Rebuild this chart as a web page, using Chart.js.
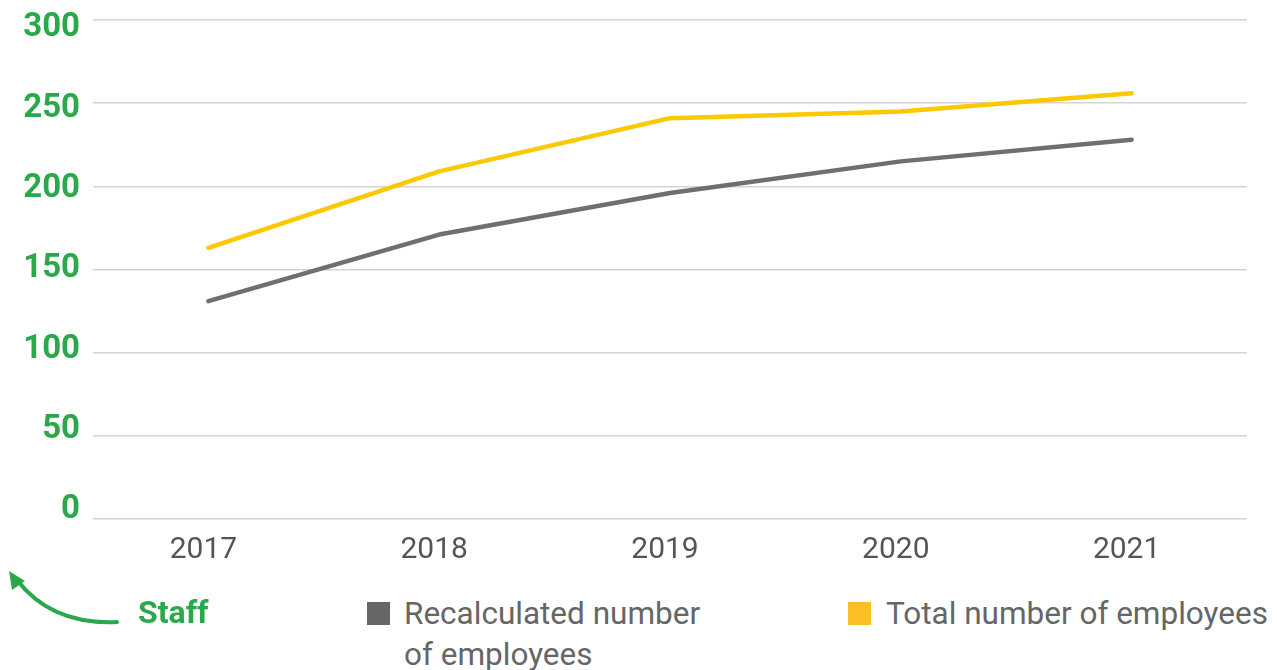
<!DOCTYPE html>
<html>
<head>
<meta charset="utf-8">
<script src="https://cdn.jsdelivr.net/npm/chart.js@4"></script>
<style>
  html, body { margin: 0; padding: 0; background: #fff; }
  body { width: 1277px; height: 670px; position: relative; overflow: hidden; font-family: Roboto, "Liberation Sans", sans-serif; }
  #wrap { position: absolute; left: 0; top: 0; width: 1277px; height: 575px; }
  .staff { position: absolute; left: 138px; top: 593px; color: #2aa84a; font-weight: bold; font-size: 32px; line-height: 38px; }
  .sq { position: absolute; width: 23px; height: 23px; }
  .lbl { position: absolute; color: #666; font-size: 31.5px; line-height: 41px; }
</style>
</head>
<body>
<div id="wrap"><canvas id="chart-staff"></canvas></div>

<!-- legend -->
<svg style="position:absolute;left:0;top:560px" width="130" height="80">
  <path d="M117,62 C72,64 40,50 17,20" fill="none" stroke="#2aa84a" stroke-width="4" stroke-linecap="round"/>
  <polygon points="9,11 25,21 12,30" fill="#2aa84a"/>
</svg>
<div class="staff">Staff</div>
<div class="sq" style="left:367px;top:602px;background:#666666"></div>
<div class="lbl" style="left:404px;top:593px">Recalculated number<br>of employees</div>
<div class="sq" style="left:848px;top:602px;background:#fbbf26"></div>
<div class="lbl" style="left:886px;top:593px">Total number of employees</div>

<script>
// Data Start
const years = ["2017", "2018", "2019", "2020", "2021"];
const recalculated = [131, 171, 196, 215, 228];
const total = [163, 209, 241, 245, 256];
const yTicks = [0, 50, 100, 150, 200, 250, 300];
// Data End

const staff = document.getElementById("chart-staff");

// no extra room for half label heights, layout padding does it
const noPad = (s) => { s.paddingTop = 0; s.paddingBottom = 0; };

// Chart Staff Line Start
new Chart(staff, {
    type: "line",
    data: {
        labels: years,
        datasets: [
            {
                label: "Recalculated number of employees",
                data: recalculated,
                borderColor: "#6f6f71",
                borderWidth: 4.5,
                borderCapStyle: "round",
                borderJoinStyle: "round",
                pointRadius: 0,
                tension: 0,
            },
            {
                label: "Total number of employees",
                data: total,
                borderColor: "#fcc800",
                borderWidth: 4.5,
                borderCapStyle: "round",
                borderJoinStyle: "round",
                pointRadius: 0,
                tension: 0,
            },
        ],
    },
    options: {
        responsive: true,
        maintainAspectRatio: false,
        animation: false,
        layout: {
            padding: { top: 20, right: 30, bottom: 0, left: 0 },
        },
        scales: {
            x: {
                offset: true,
                grid: { display: false, drawTicks: false },
                border: { display: false },
                ticks: {
                    color: "#555555",
                    padding: 13,
                    labelOffset: -5,
                    font: { family: "Roboto", size: 30 },
                },
                afterFit: (s) => { s.height = 56; },
            },
            y: {
                position: "left",
                min: 0,
                max: 300,
                grid: { color: "#d4d4d4", lineWidth: 1.5, drawTicks: false },
                border: { display: false },
                ticks: { display: false, stepSize: 50 },
                afterFit: (s) => { s.width = 0; noPad(s); },
            },
            // tick labels sit a bit off the gridlines in the original
            yl: {
                position: "left",
                min: -5.6,
                max: 305,
                grid: { display: false, drawTicks: false },
                border: { display: false },
                afterBuildTicks: (s) => { s.ticks = yTicks.map((v) => ({ value: v })); },
                ticks: {
                    color: "#2aa84a",
                    padding: 13,
                    font: { family: "Roboto", size: 33, weight: "bold" },
                },
                afterFit: (s) => { s.width = 93; noPad(s); },
            },
        },
        plugins: {
            legend: { display: false },
            tooltip: { enabled: false },
        },
    },
});
// Chart Staff Line End
</script>
</body>
</html>
